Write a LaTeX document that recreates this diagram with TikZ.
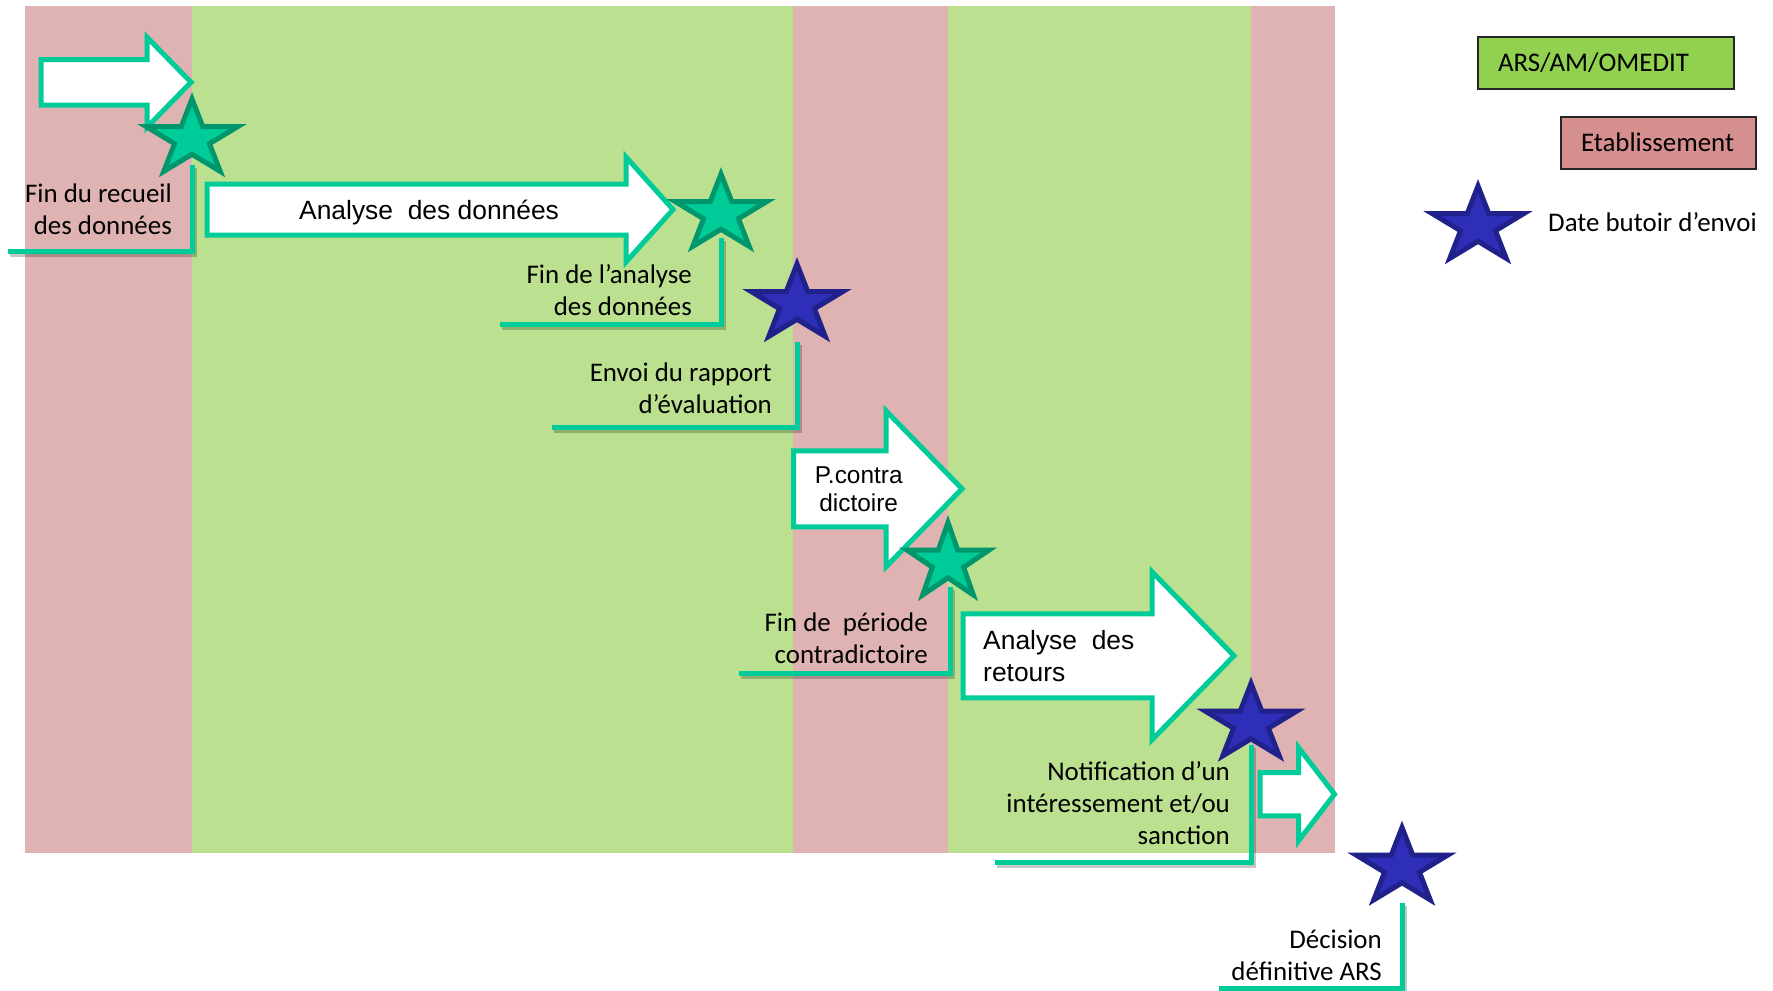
\documentclass[tikz,border=0pt]{standalone}
\usepackage{fontspec}
\setmainfont{Carlito}
\newfontfamily\arialfont{Liberation Sans}
\definecolor{bgpink}{RGB}{224,179,179}
\definecolor{bggreen}{RGB}{187,224,143}
\definecolor{teal1}{RGB}{0,204,153}
\definecolor{stargreen}{RGB}{0,204,153}
\definecolor{stargreenD}{RGB}{0,150,108}
\definecolor{starblue}{RGB}{46,46,184}
\definecolor{starblueD}{RGB}{33,33,140}
\definecolor{leggreen}{RGB}{146,208,80}
\definecolor{legpink}{RGB}{213,143,142}
\newcommand\mystar[5]{\draw[#1,shift={(#2,#3)},xscale=#4,yscale=#5] (270:1)--(306:0.382)--(342:1)--(18:0.382)--(54:1)--(90:0.382)--(126:1)--(162:0.382)--(198:1)--(234:0.382)--cycle;}
\newcommand\blockarrow[6]{\draw[blockarr] (#1,{#4-#5}) -- (#2,{#4-#5}) -- (#2,{#4-#6}) -- (#3,#4) -- (#2,{#4+#6}) -- (#2,{#4+#5}) -- (#1,{#4+#5}) -- cycle;}
\newcommand\lconn[2]{\draw[lshadow] ([xshift=2bp,yshift=-3bp]#1) |- ([xshift=2bp,yshift=-3bp]#2); \draw[lline] (#1) |- (#2);}
\begin{document}
\begin{tikzpicture}[x=1bp,y=-1bp,
  blockarr/.style={draw=teal1,line width=5bp,fill=white,line join=miter},
  gstar/.style={fill=stargreen,draw=stargreenD,line width=5bp,line join=miter},
  bstar/.style={fill=starblue,draw=starblueD,line width=5bp,line join=miter},
  lline/.style={draw=teal1,line width=5bp,line join=miter},
  lshadow/.style={draw=black,opacity=0.22,line width=6bp},
  lbl/.style={font=\fontsize{27}{32}\selectfont,align=right,inner sep=0pt,anchor=south east},
  atxt/.style={font=\arialfont\fontsize{26.5}{31.7}\selectfont,inner sep=0pt},
  legbox/.style={draw=black!85,line width=1.5bp,font=\fontsize{27}{32}\selectfont,inner ysep=0pt,text height=17.4bp,text depth=0bp,align=left}]
\fill[white] (0,0) rectangle (1773,990);
\useasboundingbox (0,0) rectangle (1773,990);
% bands
\fill[bgpink] (25,6) rectangle (192,853);
\fill[bggreen] (192,6) rectangle (793,853);
\fill[bgpink] (793,6) rectangle (948,853);
\fill[bggreen] (948,6) rectangle (1251,853);
\fill[bgpink] (1251,6) rectangle (1335,853);
% block arrows
\blockarrow{41}{147}{191}{82.25}{22.75}{45}
\blockarrow{207}{626}{673}{209.5}{25.5}{52.5}
\blockarrow{793.5}{886}{962}{488.8}{38}{78}
\blockarrow{963}{1152}{1234}{655.8}{42}{84}
\blockarrow{1260}{1298.5}{1334.5}{794.2}{21.7}{46.7}
\node[atxt,anchor=base west] (a2t) at (299,219) {Analyse\ \ des données};
\node[atxt,font=\arialfont\fontsize{24.5}{27.7}\selectfont,align=center,anchor=south] (a3t) at (858.7,511.7) {P.contra\\dictoire};
\node[atxt,align=left,anchor=south west] (a4t) at (983,682) {Analyse\ \ des\\retours};
% connector feet and ends
\coordinate (t1) at (192,165);  \coordinate (e1) at (8,251);
\coordinate (t2) at (721,238);  \coordinate (e2) at (500,324);
\coordinate (t3) at (797,342);  \coordinate (e3) at (552,427);
\coordinate (t4) at (950,587);  \coordinate (e4) at (739,673);
\coordinate (t5) at (1251,745); \coordinate (e5) at (995,862);
\coordinate (t6) at (1402,903); \coordinate (e6) at (1219,988);
\lconn{t1}{e1}
\lconn{t2}{e2}
\lconn{t3}{e3}
\lconn{t4}{e4}
\lconn{t5}{e5}
\lconn{t6}{e6}
% stars
\mystar{gstar}{192}{139}{48}{40}
\mystar{gstar}{721}{214}{48}{40}
\mystar{bstar}{797}{304}{48}{40}
\mystar{gstar}{948}{562.5}{43}{40}
\mystar{bstar}{1251}{723.5}{48}{40}
\mystar{bstar}{1402}{867.5}{48}{40}
\mystar{bstar}{1478}{226}{48}{40}
% labels
\node[lbl] (l1) at (172,234.5) {Fin du recueil\\des données};
\node[lbl] (l2) at (692,315.5) {Fin de l’analyse\\des données};
\node[lbl] (l3) at (772,413.5) {Envoi du rapport\\d’évaluation};
\node[lbl] (l4) at (928,663.5) {Fin de\ \ période\\contradictoire};
\node[lbl] (l5) at (1230,844.5) {Notification d’un\\intéressement et/ou\\sanction};
\node[lbl] (l6) at (1382,980.5) {Décision\\définitive ARS};
% legend
\node[legbox,fill=leggreen,minimum width=256bp,minimum height=52bp,text width=216bp,inner xsep=20bp] (lg1) at (1606,63) {ARS/AM/OMEDIT};
\node[legbox,fill=legpink,minimum width=195bp,minimum height=52bp,text width=155bp,inner xsep=20bp] (lg2) at (1658.5,143.2) {Etablissement};
\node[font=\fontsize{27}{32}\selectfont,inner sep=0pt,anchor=base west] (lg3) at (1548,231.5) {Date butoir d’envoi};
\end{tikzpicture}
\end{document}
